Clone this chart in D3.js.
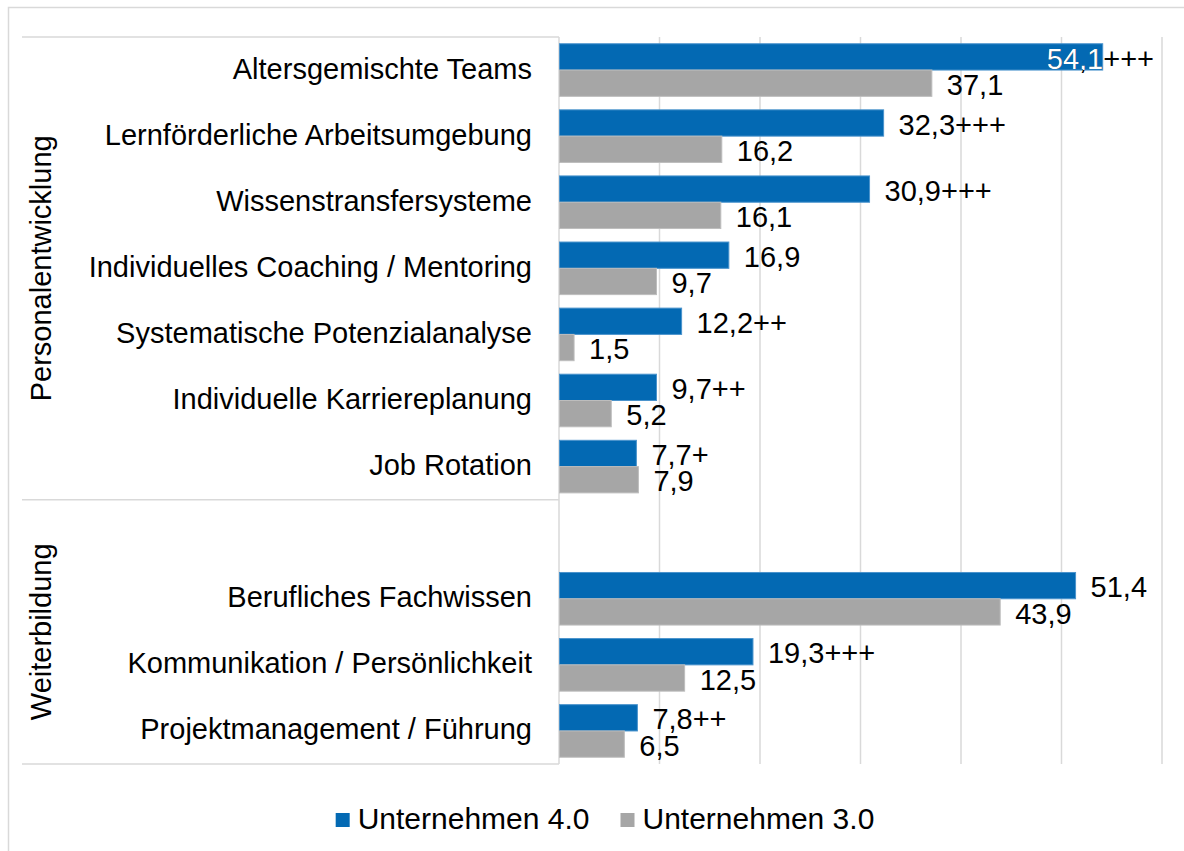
<!DOCTYPE html>
<html>
<head>
<meta charset="utf-8">
<script src="https://cdn.jsdelivr.net/npm/d3@7"></script>
<style>
  body { margin: 0; background: #fff; }
  text { font-family: "Liberation Sans", Arial, sans-serif; fill: #000; }
</style>
</head>
<body>
<svg id="chart" width="1184" height="851"></svg>
<script>
// categories, "" is the empty row between the two groups
var categories = [
  "Altersgemischte Teams",
  "Lernförderliche Arbeitsumgebung",
  "Wissenstransfersysteme",
  "Individuelles Coaching / Mentoring",
  "Systematische Potenzialanalyse",
  "Individuelle Karriereplanung",
  "Job Rotation",
  "",
  "Berufliches Fachwissen",
  "Kommunikation / Persönlichkeit",
  "Projektmanagement / Führung"
];
var u40 = [54.1, 32.3, 30.9, 16.9, 12.2, 9.7, 7.7, null, 51.4, 19.3, 7.8];
var u30 = [37.1, 16.2, 16.1, 9.7, 1.5, 5.2, 7.9, null, 43.9, 12.5, 6.5];
var marks = ["+++", "+++", "+++", "", "++", "++", "+", "", "", "+++", "++"];
var groups = [
  { name: "Personalentwicklung", first: 0, last: 6 },
  { name: "Weiterbildung", first: 7, last: 10 }
];
var seriesNames = ["Unternehmen 4.0", "Unternehmen 3.0"];
var xTicks = [0, 10, 20, 30, 40, 50, 60];

var colors = { "Unternehmen 4.0": "#0369b3", "Unternehmen 3.0": "#a6a6a6" };
var strokes = { "Unternehmen 4.0": "#4a93cc", "Unternehmen 3.0": "#bdbdbd" };
var fs = 29;

var svg = d3.select("#chart");
var plot = { left: 559, right: 1162, top: 37, bottom: 764 };
var tableLeft = 22;

var x = d3.scaleLinear().domain([0, 60]).range([plot.left, plot.right]);
var y = d3.scaleBand().domain(d3.range(categories.length)).range([plot.top, plot.bottom]);
var ySub = d3.scaleBand().domain(seriesNames).range([0, y.bandwidth()]).paddingOuter(0.257);

var fmt = function(v) { return d3.format(".1f")(v).replace(".", ","); };

// outer frame (only top and left visible)
svg.append("rect")
  .attr("x", 8.5).attr("y", 7.5).attr("width", 1200).attr("height", 900)
  .attr("fill", "none").attr("stroke", "#d9d9d9").attr("stroke-width", 1.5);

// gridlines
svg.append("g").selectAll("line").data(xTicks.slice(1)).join("line")
  .attr("x1", function(d) { return x(d); }).attr("x2", function(d) { return x(d); })
  .attr("y1", plot.top).attr("y2", plot.bottom)
  .attr("stroke", "#d9d9d9").attr("stroke-width", 1.5);

// category table lines
var boundaries = [plot.top, y(groups[1].first), plot.bottom];
svg.append("g").selectAll("line").data(boundaries).join("line")
  .attr("x1", tableLeft).attr("x2", plot.left)
  .attr("y1", function(d) { return d; }).attr("y2", function(d) { return d; })
  .attr("stroke", "#d9d9d9").attr("stroke-width", 1.5);
svg.append("line")
  .attr("x1", x(0)).attr("x2", x(0)).attr("y1", plot.top).attr("y2", plot.bottom)
  .attr("stroke", "#d9d9d9").attr("stroke-width", 1.5);

// category labels
svg.append("g").selectAll("text").data(categories).join("text")
  .attr("x", plot.left - 27)
  .attr("y", function(d, i) { return y(i) + y.bandwidth() / 2 + 8.5; })
  .attr("text-anchor", "end")
  .attr("font-size", fs)
  .text(function(d) { return d; });

// group labels
svg.append("g").selectAll("text").data(groups).join("text")
  .attr("transform", function(g) {
    var cy = (y(g.first) + y(g.last) + y.bandwidth()) / 2;
    return "translate(51," + cy + ") rotate(-90)";
  })
  .attr("text-anchor", "middle")
  .attr("font-size", fs)
  .text(function(g) { return g.name; });

// bars
var rows = [];
categories.forEach(function(c, i) {
  if (u40[i] == null) return;
  rows.push({ i: i, s: "Unternehmen 4.0", v: u40[i], mark: marks[i] });
  rows.push({ i: i, s: "Unternehmen 3.0", v: u30[i], mark: "" });
});

var defs = svg.append("defs");
var barG = svg.append("g");
var labelG = svg.append("g");

rows.forEach(function(r, k) {
  var by = y(r.i) + ySub(r.s);
  var bh = ySub.bandwidth();
  var bw = x(r.v) - x(0);
  barG.append("rect")
    .attr("x", x(0) + 0.5).attr("y", by)
    .attr("width", bw - 0.5).attr("height", bh)
    .attr("fill", colors[r.s])
    .attr("stroke", strokes[r.s]).attr("stroke-width", 1);

  var label = fmt(r.v) + r.mark;
  var t = labelG.append("text")
    .attr("y", by + bh - 1.5)
    .attr("font-size", fs)
    .text(label);
  var tw = t.node().getComputedTextLength();
  var lx = x(r.v) + 15;
  if (lx + tw > plot.right - 8) lx = plot.right - 8 - tw;
  t.attr("x", lx);

  // white part of the label where it lies on its bar
  if (lx < x(r.v)) {
    defs.append("clipPath").attr("id", "clip" + k)
      .append("rect").attr("x", x(0)).attr("y", by).attr("width", bw).attr("height", bh);
    labelG.append("text")
      .attr("x", lx).attr("y", by + bh - 1.5)
      .attr("font-size", fs)
      .attr("clip-path", "url(#clip" + k + ")")
      .style("fill", "#fff")
      .text(label);
  }
});

// legend
var legend = svg.append("g");
var items = legend.selectAll("g").data(seriesNames).join("g");
items.append("rect")
  .attr("width", 14).attr("height", 14).attr("y", -16)
  .attr("fill", function(d) { return colors[d]; });
items.append("text")
  .attr("x", 22).attr("font-size", 30)
  .text(function(d) { return d; });
var pos = 0;
items.each(function() {
  var w = this.getBBox().width;
  d3.select(this).attr("transform", "translate(" + pos + ",0)");
  pos += w + 31;
});
var total = pos - 31;
legend.attr("transform", "translate(" + (605 - total / 2) + ",829)");
</script>
</body>
</html>
